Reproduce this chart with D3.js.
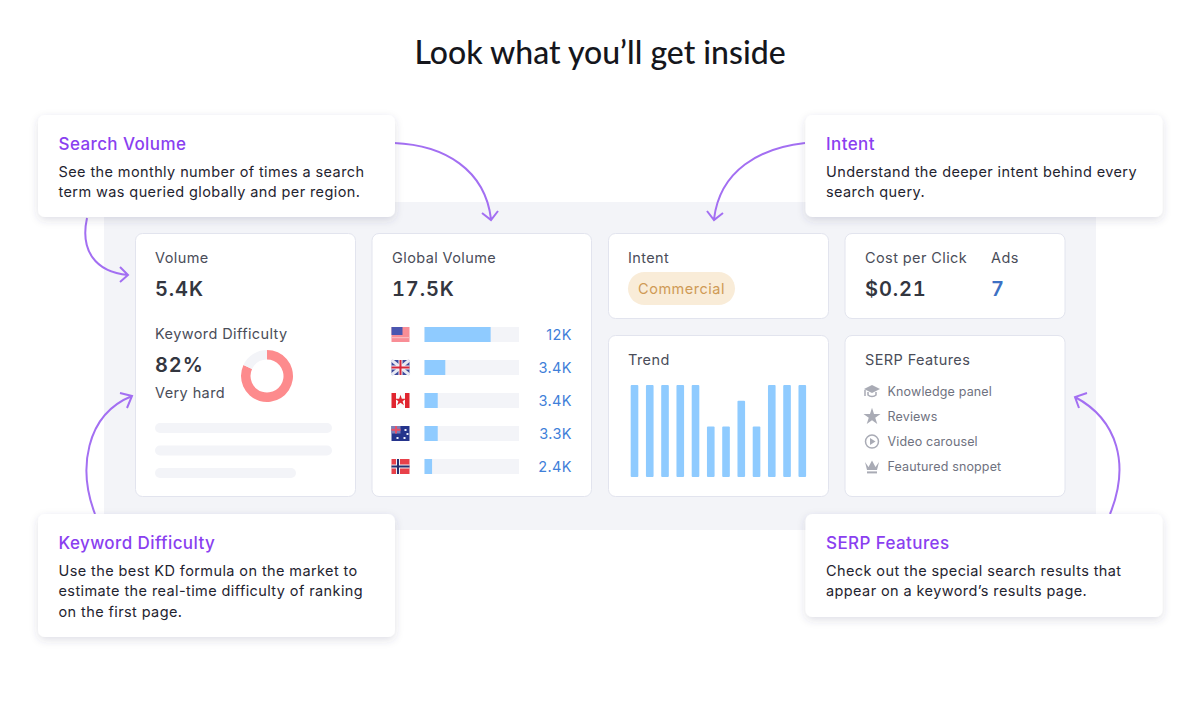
<!DOCTYPE html>
<html>
<head>
<meta charset="utf-8">
<script src="https://cdn.jsdelivr.net/npm/d3@7"></script>
<style>
html, body { margin: 0; padding: 0; background: #fff; }
text { font-family: Inter, "Noto Sans", sans-serif; letter-spacing: 0.4px; }
</style>
</head>
<body>
<div id="canvas"></div>
<script>
// data
var countries = ["US", "UK", "CA", "AU", "NO"];
var countryLabels = ["12K", "3.4K", "3.4K", "3.3K", "2.4K"];
var countryShare = [70, 22, 14, 14, 8];
var trendMonths = [1, 2, 3, 4, 5, 6, 7, 8, 9, 10, 11, 12];
var trendValues = [100, 100, 100, 100, 100, 55, 55, 83, 55, 100, 100, 100];
var difficulty = [82, 18];
var serpLabels = ["Knowledge panel", "Reviews", "Video carousel", "Feautured snoppet"];
var purple = "#8a3ff0";
var ink = "#1f2430";
var soft = "#f3f4f8";
var blue = "#8fcbff";

var width = 1200, height = 722;
var svg = d3.select("#canvas").append("svg").attr("width", width).attr("height", height).style("display", "block");

var defs = svg.append("defs");
var shadow = defs.append("filter").attr("id", "shadow").attr("x", "-10%").attr("y", "-20%").attr("width", "120%").attr("height", "150%");
shadow.append("feDropShadow").attr("dx", 0).attr("dy", 3).attr("stdDeviation", 4).attr("flood-color", "#3a3f66").attr("flood-opacity", 0.16);

function label(x, y, str, size, fill, weight, anchor) {
    return svg.append("text").attr("x", x).attr("y", y)
        .attr("font-size", size).attr("fill", fill)
        .attr("font-weight", weight || 400)
        .attr("text-anchor", anchor || "start")
        .text(str);
}

function bigNumber(x, y, str, fill) {
    return label(x, y, str, 20, fill || "#33363f", 600)
        .style("letter-spacing", "0.9px")
        .style("font-feature-settings", "'tnum'");
}

function card(x, y, w, h) {
    svg.append("rect").attr("x", x + 0.5).attr("y", y + 0.5).attr("width", w).attr("height", h)
        .attr("rx", 7).attr("fill", "#fff").attr("stroke", "#e2e4ee");
}

label(600, 64, "Look what you\u2019ll get inside", 32, "#15161c", 500, "middle")
    .style("font-family", "Lato").style("letter-spacing", "0");

// background panel
svg.append("rect").attr("x", 104).attr("y", 202).attr("width", 992).attr("height", 328).attr("fill", soft);

card(135, 233, 220, 263);
card(371.5, 233, 219.5, 263);
card(608, 233, 220, 85);
card(844.5, 233, 220, 85);
card(608, 335, 220, 161);
card(844.5, 335, 220, 161);

// volume card
label(155, 263, "Volume", 14.5, "#4a4d59");
bigNumber(155, 296, "5.4K");
label(155, 339, "Keyword Difficulty", 14.5, "#4a4d59");
bigNumber(155, 372, "82%");
label(155, 398, "Very hard", 14.5, "#4a4d59");

var pie = d3.pie().sort(null);
var arc = d3.arc().innerRadius(16.5).outerRadius(26);
svg.append("g").attr("transform", "translate(267,376)")
    .selectAll("path").data(pie(difficulty)).join("path")
    .attr("d", arc)
    .attr("fill", function(d, i) { return i == 0 ? "#fd8b8d" : soft; });

[[155, 177], [155, 177], [155, 141]].forEach(function(b, i) {
    svg.append("rect").attr("x", b[0]).attr("y", 423 + i * 22.5).attr("width", b[1]).attr("height", 10)
        .attr("rx", 5).attr("fill", soft);
});

// global volume card
label(392, 263, "Global Volume", 14.5, "#4a4d59");
bigNumber(392, 296, "17.5K");

var rowScale = d3.scaleBand().domain(countries).range([318, 483]);
var shareScale = d3.scaleLinear().domain([0, 100]).range([0, 94.5]);

var rows = svg.append("g").selectAll("g").data(countries).join("g")
    .attr("transform", function(d) { return "translate(0," + (rowScale(d) + rowScale.bandwidth() / 2) + ")"; });
rows.append("rect").attr("x", 424.5).attr("y", -7.5).attr("width", shareScale(100)).attr("height", 15).attr("fill", soft);
rows.append("rect").attr("x", 424.5).attr("y", -7.5)
    .attr("width", function(d, i) { return shareScale(countryShare[i]); })
    .attr("height", 15).attr("fill", blue);
rows.append("text").attr("x", 572).attr("y", 5).attr("text-anchor", "end")
    .attr("font-size", 14.5).attr("fill", "#3f7fd9")
    .text(function(d, i) { return countryLabels[i]; });

// little flags, 18 x 15
function flag(g, code) {
    var f = g.append("g").attr("transform", "translate(391.5,-7.5)");
    function r(x, y, w, h, c) { f.append("rect").attr("x", x).attr("y", y).attr("width", w).attr("height", h).attr("fill", c); }
    function l(p, c, sw) { f.append("path").attr("d", p).attr("stroke", c).attr("stroke-width", sw).attr("fill", "none"); }
    if (code == "US") {
        r(0, 0, 18, 15, "#f98e96");
        r(0, 10, 18, 1.2, "#fbb9bd");
        r(0, 0, 11, 8, "#4a56b0");
    } else if (code == "UK") {
        r(0, 0, 18, 15, "#3d4a9c");
        l("M0,0L18,15M18,0L0,15", "#e8e9f2", 3);
        r(7, 0, 4, 15, "#f4f4f8");
        r(0, 5.5, 18, 4, "#f4f4f8");
        r(8, 0, 2, 15, "#d8283a");
        r(0, 6.5, 18, 2, "#d8283a");
    } else if (code == "CA") {
        r(0, 0, 18, 15, "#fbfbfb");
        r(0, 0, 4.5, 15, "#e0252f");
        r(13.5, 0, 4.5, 15, "#e0252f");
        f.append("path").attr("d", d3.symbol().type(d3.symbolStar).size(38)()).attr("transform", "translate(9,7.5)").attr("fill", "#e0252f");
    } else if (code == "AU") {
        r(0, 0, 18, 15, "#25348c");
        r(0, 0, 9, 7.5, "#7c80b8");
        r(3.5, 0, 2, 7.5, "#e4526a");
        r(0, 2.8, 9, 2, "#e4526a");
        [[13, 3], [15, 7], [12, 11], [5, 11]].forEach(function(s) { r(s[0], s[1], 2, 2, "#eef0fa"); });
    } else {
        r(0, 0, 18, 15, "#e8414a");
        r(4.5, 0, 4, 15, "#f4f4f8");
        r(0, 5.5, 18, 4, "#f4f4f8");
        r(5.5, 0, 2, 15, "#27306f");
        r(0, 6.5, 18, 2, "#27306f");
    }
}
rows.each(function(d) { flag(d3.select(this), d); });

// intent card
label(628, 263, "Intent", 14.5, "#4a4d59");
svg.append("rect").attr("x", 628).attr("y", 272).attr("width", 107).attr("height", 33).attr("rx", 16.5).attr("fill", "#f9ecd8");
label(681.5, 293.5, "Commercial", 14.5, "#cf9a55", 400, "middle").style("letter-spacing", "0.5px");

// cpc card
label(865, 263, "Cost per Click", 14.5, "#4a4d59");
label(991, 263, "Ads", 14.5, "#4a4d59");
bigNumber(865, 296, "$0.21");
bigNumber(991, 296, "7", "#3d70c4");

// trend card
label(628, 365, "Trend", 14.5, "#4a4d59");
var trendX = d3.scaleBand().domain(trendMonths).range([628.1, 808.7]).paddingInner(0.5).paddingOuter(0.17);
var trendY = d3.scaleLinear().domain([0, 100]).range([477, 385]);
svg.append("g").selectAll("rect").data(trendValues).join("rect")
    .attr("x", function(d, i) { return trendX(trendMonths[i]); })
    .attr("y", function(d) { return trendY(d); })
    .attr("width", trendX.bandwidth())
    .attr("height", function(d) { return trendY(0) - trendY(d); })
    .attr("rx", 1).attr("fill", blue);

// serp card
label(865, 365, "SERP Features", 14.5, "#4a4d59");
var serpRows = svg.append("g").selectAll("g").data(serpLabels).join("g")
    .attr("transform", function(d, i) { return "translate(872," + (391 + i * 25.3) + ")"; });
serpRows.append("text").attr("x", 15.5).attr("y", 4.5).attr("font-size", 12.5).attr("fill", "#6f7280")
    .style("letter-spacing", "0.15px")
    .text(function(d) { return d; });
var iconGray = "#a9abb5";
serpRows.each(function(d, i) {
    var g = d3.select(this);
    if (i == 0) {
        g.append("path").attr("d", "M-8,-2L0,-6L8,-2L0,2Z").attr("fill", iconGray);
        g.append("path").attr("d", "M-4,1V4C-2,6 2,6 4,4V1M-7,-1V5").attr("fill", "none").attr("stroke", iconGray).attr("stroke-width", 1.5);
    } else if (i == 1) {
        g.append("path").attr("d", d3.symbol().type(d3.symbolStar).size(90)()).attr("transform", "translate(0,0.5)").attr("fill", iconGray);
    } else if (i == 2) {
        g.append("circle").attr("r", 6.5).attr("fill", "none").attr("stroke", iconGray).attr("stroke-width", 1.5);
        g.append("path").attr("d", "M-2,-3.5L3.5,0L-2,3.5Z").attr("fill", iconGray);
    } else {
        g.append("path").attr("d", "M-7,-5L-3.5,0L0,-6.5L3.5,0L7,-5L5,3H-5Z").attr("fill", iconGray);
        g.append("rect").attr("x", -5).attr("y", 4.5).attr("width", 10).attr("height", 2).attr("fill", iconGray);
    }
});

// arrows
var arrows = [
    "M394,143C445,145 485,170 491,219M482,213L491,220L498,211",
    "M87,218C80,250 95,272 128,275M120,267L128,275L120,282",
    "M805,143C760,148 720,170 714,219M707,211L714,220L723,213",
    "M95,514C78,470 85,415 132,396M120,393L132,396L127,408",
    "M1110,514C1130,465 1118,420 1075,397M1087,393L1075,397L1079,408"
];
svg.append("g").selectAll("path").data(arrows).join("path")
    .attr("d", function(d) { return d; })
    .attr("fill", "none").attr("stroke", "#a36ff2").attr("stroke-width", 2);

// callouts
function callout(x, y, w, h, title, lines) {
    svg.append("rect").attr("x", x).attr("y", y).attr("width", w).attr("height", h)
        .attr("rx", 7).attr("fill", "#fff").attr("filter", "url(#shadow)");
    label(x + 20.5, y + 35, title, 17, purple, 500);
    lines.forEach(function(t, i) {
        label(x + 20.5, y + 61.5 + i * 20.5, t, 14.5, ink);
    });
}
callout(38, 115, 357, 102, "Search Volume", ["See the monthly number of times a search", "term was queried globally and per region."]);
callout(805.5, 115, 357, 102, "Intent", ["Understand the deeper intent behind every", "search query."]);
callout(38, 514, 357, 123, "Keyword Difficulty", ["Use the best KD formula on the market to", "estimate the real-time difficulty of ranking", "on the first page."]);
callout(805.5, 514, 357, 103, "SERP Features", ["Check out the special search results that", "appear on a keyword\u2019s results page."]);
</script>
</body>
</html>
